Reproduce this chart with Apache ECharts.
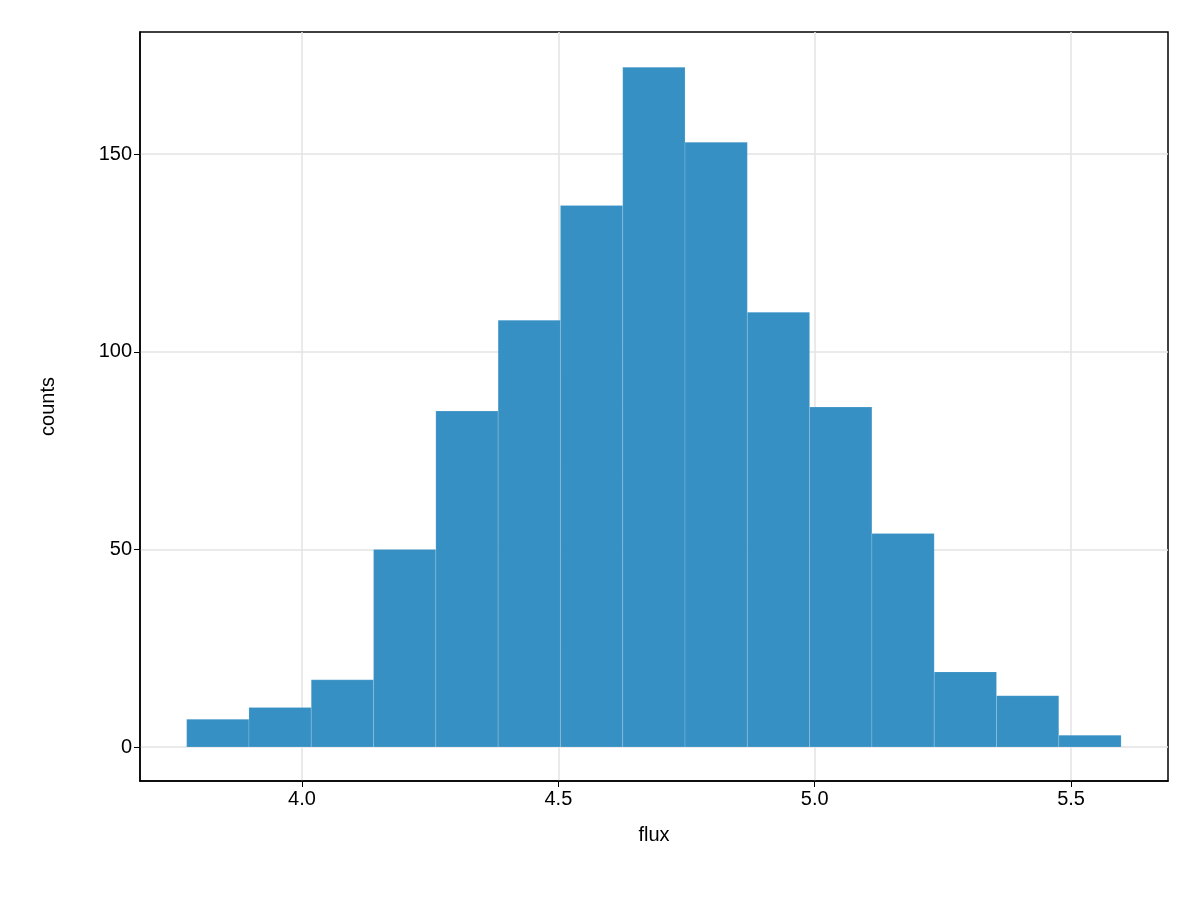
<!DOCTYPE html>
<html><head><meta charset="utf-8">
<script src="https://cdn.jsdelivr.net/npm/echarts@6/dist/echarts.min.js"></script>
<style>html,body{margin:0;padding:0;background:#fff}#c{width:1200px;height:900px}</style>
</head><body><div id="c"></div>
<script>
const binEdges = [3.775,3.8965,4.018,4.1395,4.261,4.3825,4.504,4.6255,4.747,4.8685,4.99,5.1115,5.233,5.3545,5.476,5.5975];
const counts = [7,10,17,50,85,108,137,172,153,110,86,54,19,13,3];
const xTicks = [4.0,4.5,5.0,5.5];
const yTicks = [0,50,100,150];

const data = counts.map((c,i)=>[binEdges[i],binEdges[i+1],c]);
const chart = echarts.init(document.getElementById('c'));
const axisCommon = {
  axisLine:{show:true,onZero:false,lineStyle:{color:'#000',width:1.5}},
  axisTick:{show:true,length:6,lineStyle:{color:'#000'}},
  axisLabel:{color:'#000',fontSize:20,fontFamily:'Liberation Sans, Arial'},
  splitLine:{show:true,lineStyle:{color:'#e3e3e3',width:1.5}},
  nameTextStyle:{color:'#000',fontSize:20,fontFamily:'Liberation Sans, Arial'}
};
chart.setOption({
  animation:false,
  grid:{left:140,right:32,top:32,bottom:119,show:true,borderColor:'#000',borderWidth:1.5},
  xAxis:Object.assign({type:'value',min:3.684,max:5.689,name:'flux',nameLocation:'middle',nameGap:44,
    axisLabel:Object.assign({},axisCommon.axisLabel,{customValues:xTicks,formatter:v=>v.toFixed(1)}),
    axisTick:Object.assign({},axisCommon.axisTick,{customValues:xTicks}),
    splitLine:axisCommon.splitLine},
    {axisLine:axisCommon.axisLine,nameTextStyle:axisCommon.nameTextStyle}),
  yAxis:Object.assign({type:'value',min:-8.6,max:180.9,name:'counts',nameLocation:'middle',nameGap:82,
    axisLabel:Object.assign({},axisCommon.axisLabel,{customValues:yTicks}),
    axisTick:Object.assign({},axisCommon.axisTick,{customValues:yTicks}),
    splitLine:axisCommon.splitLine},
    {axisLine:axisCommon.axisLine,nameTextStyle:axisCommon.nameTextStyle}),
  series:[{
    type:'custom',
    data:data,
    encode:{x:[0,1],y:2},
    renderItem:function(params,api){
      const p0=api.coord([api.value(0),0]);
      const p1=api.coord([api.value(1),api.value(2)]);
      return {type:'rect',shape:{x:p0[0],y:p1[1],width:p1[0]-p0[0],height:p0[1]-p1[1]},
        style:{fill:'#3690c4',stroke:'rgba(255,255,255,0.15)',lineWidth:1}};
    }
  }]
});
</script></body></html>
